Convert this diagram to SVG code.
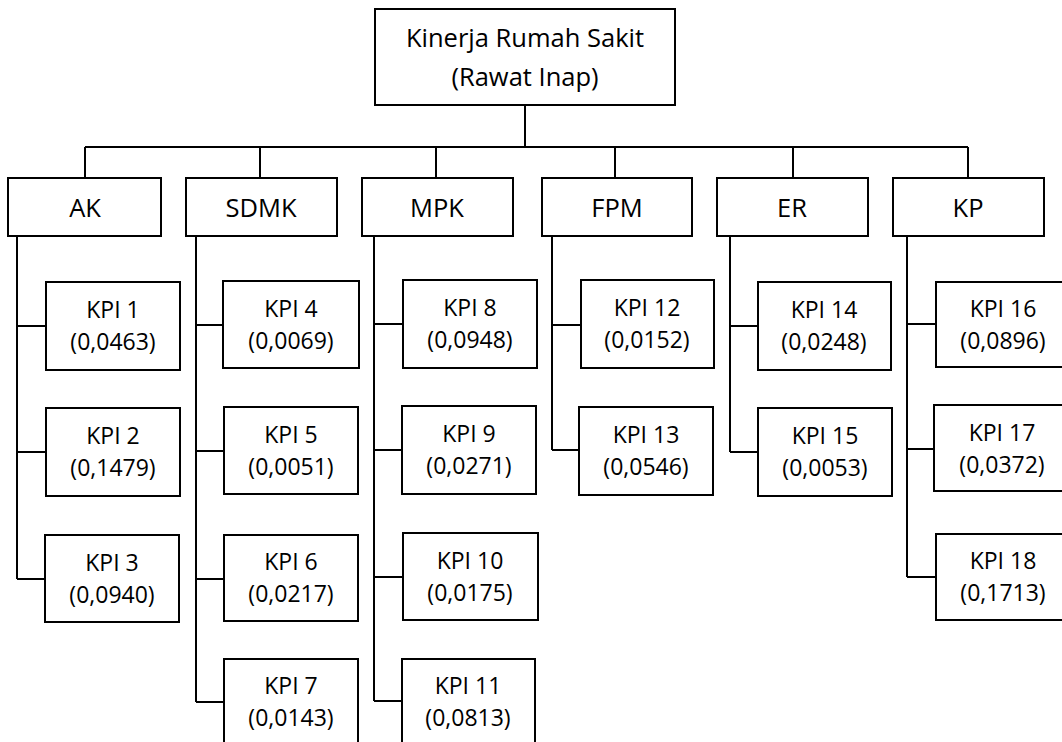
<svg xmlns="http://www.w3.org/2000/svg" width="1062" height="742" viewBox="0 0 1062 742">
<style>
.b{fill:#fff;stroke:#000;stroke-width:2}
.t{font-family:"Open Sans","Noto Sans",sans-serif;font-size:23px;fill:#000;text-anchor:middle}
.r{font-size:25.5px}
.k{font-size:25.5px}
.c{fill:none;stroke:#000;stroke-width:2}
</style>
<rect width="1062" height="742" fill="#fff"/>
<g id="connectors">
<path class="c" d="M525,105V147M85,147H968M85,147V178M260,147V178M436,147V178M615,147V178M793,147V178M968,147V178"/>
<path class="c" d="M17,236V579M17,326H46M17,452H46M17,579H45"/>
<path class="c" d="M196,236V702M196,325H223M196,451H224M196,579H224M196,702H224"/>
<path class="c" d="M374,236V701M374,324H403M374,450H402M374,577H403M374,701H402"/>
<path class="c" d="M552,236V450M552,325H581M552,450H579"/>
<path class="c" d="M730,236V452M730,326H758M730,452H758"/>
<path class="c" d="M907,236V577M907,324H936M907,449H934M907,577H936"/>
</g>
<g id="root"><rect class="b" x="375" y="9" width="300" height="96"/><text class="t r" x="525" y="47">Kinerja Rumah Sakit</text><text class="t r" x="525" y="86">(Rawat Inap)</text></g>
<g id="AK"><rect class="b" x="8" y="178" width="153" height="58"/><text class="t k" x="85" y="217">AK</text></g>
<g id="SDMK"><rect class="b" x="186" y="178" width="151" height="58"/><text class="t k" x="261" y="217">SDMK</text></g>
<g id="MPK"><rect class="b" x="362" y="178" width="151" height="58"/><text class="t k" x="437" y="217">MPK</text></g>
<g id="FPM"><rect class="b" x="542" y="178" width="150" height="58"/><text class="t k" x="617" y="217">FPM</text></g>
<g id="ER"><rect class="b" x="717" y="178" width="151" height="58"/><text class="t k" x="792" y="217">ER</text></g>
<g id="KP"><rect class="b" x="893" y="178" width="151" height="58"/><text class="t k" x="968" y="217">KP</text></g>
<g id="kpi1"><rect class="b" x="46" y="282" width="134" height="88"/><text class="t" x="113" y="318">KPI 1</text><text class="t" x="113" y="350">(0,0463)</text></g>
<g id="kpi2"><rect class="b" x="46" y="408" width="134" height="88"/><text class="t" x="113" y="444">KPI 2</text><text class="t" x="113" y="476">(0,1479)</text></g>
<g id="kpi3"><rect class="b" x="45" y="535" width="134" height="87"/><text class="t" x="112" y="571">KPI 3</text><text class="t" x="112" y="603">(0,0940)</text></g>
<g id="kpi4"><rect class="b" x="223" y="281" width="136" height="87"/><text class="t" x="291" y="317">KPI 4</text><text class="t" x="291" y="349">(0,0069)</text></g>
<g id="kpi5"><rect class="b" x="224" y="407" width="134" height="87"/><text class="t" x="291" y="443">KPI 5</text><text class="t" x="291" y="475">(0,0051)</text></g>
<g id="kpi6"><rect class="b" x="224" y="535" width="134" height="86"/><text class="t" x="291" y="570">KPI 6</text><text class="t" x="291" y="602">(0,0217)</text></g>
<g id="kpi7"><rect class="b" x="224" y="659" width="134" height="88"/><text class="t" x="291" y="694">KPI 7</text><text class="t" x="291" y="726">(0,0143)</text></g>
<g id="kpi8"><rect class="b" x="403" y="280" width="134" height="88"/><text class="t" x="470" y="316">KPI 8</text><text class="t" x="470" y="348">(0,0948)</text></g>
<g id="kpi9"><rect class="b" x="402" y="406" width="134" height="88"/><text class="t" x="469" y="442">KPI 9</text><text class="t" x="469" y="474">(0,0271)</text></g>
<g id="kpi10"><rect class="b" x="403" y="533" width="135" height="87"/><text class="t" x="470" y="569">KPI 10</text><text class="t" x="470" y="601">(0,0175)</text></g>
<g id="kpi11"><rect class="b" x="402" y="659" width="133" height="88"/><text class="t" x="468" y="694">KPI 11</text><text class="t" x="468" y="726">(0,0813)</text></g>
<g id="kpi12"><rect class="b" x="581" y="280" width="133" height="88"/><text class="t" x="647" y="316">KPI 12</text><text class="t" x="647" y="348">(0,0152)</text></g>
<g id="kpi13"><rect class="b" x="579" y="407" width="134" height="88"/><text class="t" x="646" y="443">KPI 13</text><text class="t" x="646" y="475">(0,0546)</text></g>
<g id="kpi14"><rect class="b" x="758" y="282" width="133" height="88"/><text class="t" x="824" y="318">KPI 14</text><text class="t" x="824" y="350">(0,0248)</text></g>
<g id="kpi15"><rect class="b" x="758" y="408" width="134" height="88"/><text class="t" x="825" y="444">KPI 15</text><text class="t" x="825" y="476">(0,0053)</text></g>
<g id="kpi16"><rect class="b" x="936" y="282" width="134" height="85"/><text class="t" x="1003" y="317">KPI 16</text><text class="t" x="1003" y="349">(0,0896)</text></g>
<g id="kpi17"><rect class="b" x="934" y="405" width="136" height="86"/><text class="t" x="1002" y="441">KPI 17</text><text class="t" x="1002" y="473">(0,0372)</text></g>
<g id="kpi18"><rect class="b" x="936" y="534" width="134" height="86"/><text class="t" x="1003" y="569">KPI 18</text><text class="t" x="1003" y="601">(0,1713)</text></g>
</svg>
